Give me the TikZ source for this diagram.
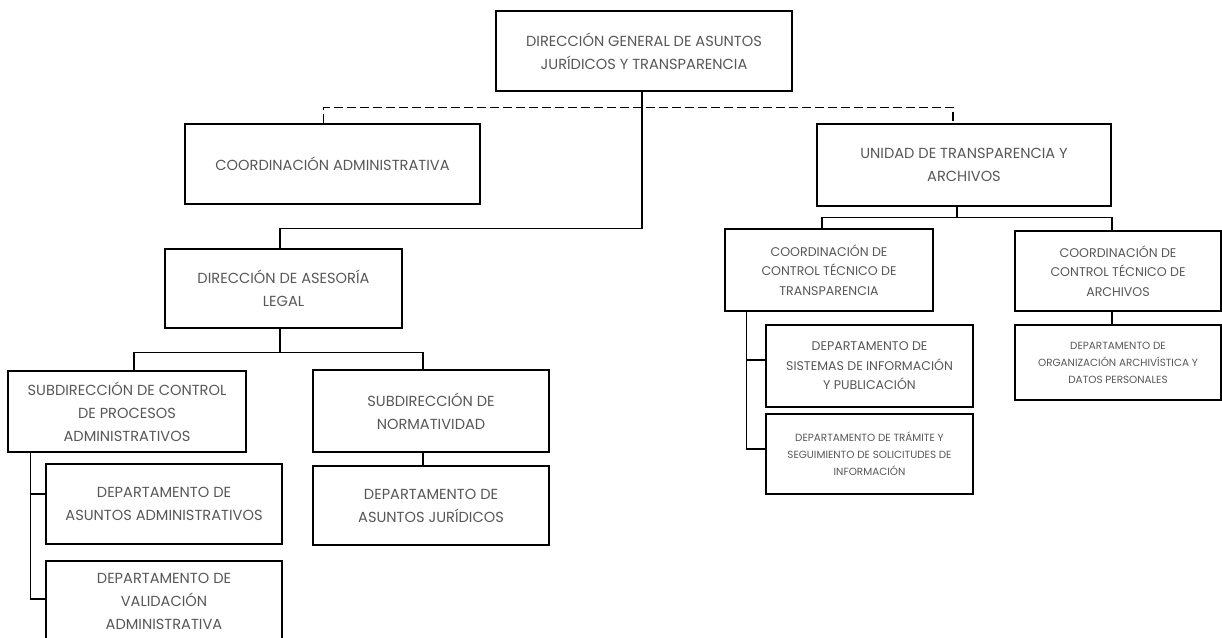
\documentclass[tikz,border=0pt]{standalone}
\usepackage{fontspec}
\setmainfont{Poppins}

\begin{document}
\begin{tikzpicture}[x=1pt,y=-1pt,line width=1.4pt,
    every node/.style={draw,align=center,inner sep=0pt,text=black!66},
    grande/.style={font=\fontsize{14.6}{23}\selectfont},
    mediano/.style={font=\fontsize{12.6}{19.5}\selectfont},
    chico/.style={font=\fontsize{10.4}{17}\selectfont},
    guion/.style={dash pattern=on 9pt off 4pt}]
\useasboundingbox (0,0) rectangle (1222,637);

%%%%%% direccion general
\node[grande,minimum width=296pt,minimum height=80pt] (dg) at (644,51) {DIRECCIÓN GENERAL DE ASUNTOS\\JURÍDICOS Y TRANSPARENCIA};
\node[grande,minimum width=295pt,minimum height=80pt] (ca) at (332.5,164) {COORDINACIÓN ADMINISTRATIVA};
\node[grande,minimum width=294pt,minimum height=82pt] (ut) at (964,165) {UNIDAD DE TRANSPARENCIA Y\\ARCHIVOS};

%%%%%% rama juridica
\node[grande,minimum width=237pt,minimum height=79pt] (das) at (283.5,288.5) {DIRECCIÓN DE ASESORÍA\\LEGAL};
\node[grande,minimum width=238pt,minimum height=81pt] (scp) at (127,411.5) {SUBDIRECCIÓN DE CONTROL\\DE PROCESOS\\ADMINISTRATIVOS};
\node[grande,minimum width=236pt,minimum height=82pt] (sn) at (431,411) {SUBDIRECCIÓN DE\\NORMATIVIDAD};
\node[grande,minimum width=236pt,minimum height=80pt] (daa) at (164,504) {DEPARTAMENTO DE\\ASUNTOS ADMINISTRATIVOS};
\node[grande,minimum width=236pt,minimum height=80pt] (dva) at (164,601) {DEPARTAMENTO DE\\VALIDACIÓN\\ADMINISTRATIVA};
\node[grande,minimum width=236pt,minimum height=79pt] (daj) at (431,505.5) {DEPARTAMENTO DE\\ASUNTOS JURÍDICOS};

%%%%%% rama transparencia
\node[mediano,minimum width=208pt,minimum height=82pt] (cct) at (829,270) {COORDINACIÓN DE\\CONTROL TÉCNICO DE\\TRANSPARENCIA};
\node[mediano,minimum width=206pt,minimum height=80pt] (cca) at (1118,271) {COORDINACIÓN DE\\CONTROL TÉCNICO DE\\ARCHIVOS};
\node[mediano,minimum width=207pt,minimum height=82pt] (dsi) at (869.5,366) {DEPARTAMENTO DE\\SISTEMAS DE INFORMACIÓN\\Y PUBLICACIÓN};
\node[chico,minimum width=207pt,minimum height=80pt] (dts) at (869.5,454) {DEPARTAMENTO DE TRÁMITE Y\\SEGUIMIENTO DE SOLICITUDES DE\\INFORMACIÓN};
\node[chico,minimum width=206pt,minimum height=75pt] (dop) at (1118,362.5) {DEPARTAMENTO DE\\ORGANIZACIÓN ARCHIVÍSTICA Y\\DATOS PERSONALES};

%%%%%% lineas
\draw[guion] ([xshift=-9pt]ca.north) -- ++(0,-16) -| ([xshift=-11pt]ut.north);
\draw ([xshift=-2pt]dg.south) -- ++(0,137) -| ([xshift=-3.5pt]das.north);
\draw ([xshift=-3.5pt]das.south) -- ++(0,24) coordinate (b1);
\draw ([xshift=7pt]scp.north) |- (b1) -| ([xshift=-8pt]sn.north);
\draw ([xshift=23pt]scp.south west) |- ([yshift=10pt]daa.west);
\draw ([xshift=23pt]scp.south west) |- ([yshift=2pt]dva.west);
\draw ([xshift=-8pt]sn.south) -- ([xshift=-8pt]daj.north);
\draw ([xshift=-7pt]ut.south) -- ++(0,11) coordinate (b2);
\draw ([xshift=-7pt]cct.north) |- (b2) -| ([xshift=-6pt]cca.north);
\draw ([xshift=22pt]cct.south west) |- ([yshift=6pt]dsi.west);
\draw ([xshift=22pt]cct.south west) |- ([yshift=5pt]dts.west);
\draw ([xshift=-6pt]cca.south) -- ([xshift=-6pt]dop.north);
\end{tikzpicture}
\end{document}
